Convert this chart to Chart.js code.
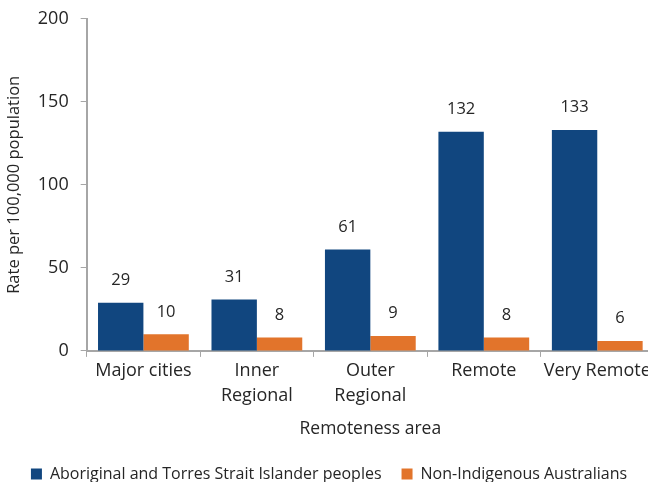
<!DOCTYPE html>
<html><head><meta charset="utf-8">
<script src="https://cdn.jsdelivr.net/npm/chart.js@4.4.1/dist/chart.umd.min.js"></script>
<style>html,body{margin:0;padding:0;overflow:hidden;background:#fff;width:648px;height:482px}canvas{display:block}</style>
</head><body>
<canvas id="c" width="656" height="482" style="width:656px;height:482px"></canvas>
<script>
const categories = [["Major cities"], ["Inner", "Regional"], ["Outer", "Regional"], ["Remote"], ["Very Remote"]];
const indigenousRates = [29, 31, 61, 132, 133];
const nonIndigenousRates = [10, 8, 9, 8, 6];
const seriesNames = ["Aboriginal and Torres Strait Islander peoples", "Non-Indigenous Australians"];
const yTicks = [0, 50, 100, 150, 200];

const FONT = "'Open Sans', 'Liberation Sans', sans-serif";
const TXT = '#262626';
const AX = '#a6a6a6';

const labelPlugin = {
  id: 'valueLabels',
  afterDatasetsDraw(chart) {
    const ctx = chart.ctx;
    ctx.save();
    ctx.font = '16.5px ' + FONT;
    ctx.fillStyle = TXT;
    ctx.textAlign = 'center';
    ctx.textBaseline = 'bottom';
    chart.data.datasets.forEach((ds, i) => {
      chart.getDatasetMeta(i).data.forEach((bar, j) => {
        ctx.fillText(String(ds.data[j]), bar.x, bar.y - 14);
      });
    });
    ctx.restore();
  }
};

new Chart(document.getElementById('c'), {
  type: 'bar',
  data: {
    labels: categories,
    datasets: [
      { label: seriesNames[0], data: indigenousRates, backgroundColor: '#11467f' },
      { label: seriesNames[1], data: nonIndigenousRates, backgroundColor: '#e2742b' }
    ]
  },
  options: {
    responsive: false,
    animation: false,
    devicePixelRatio: 1,
    layout: { padding: { top: 0, left: 4, right: 2, bottom: -10 } },
    datasets: { bar: { categoryPercentage: 0.8, barPercentage: 1.0 } },
    plugins: {
      legend: {
        position: 'bottom',
        labels: { font: { family: FONT, size: 16 }, color: TXT, boxWidth: 11, boxHeight: 11, padding: 20 }
      },
      tooltip: { enabled: false }
    },
    scales: {
      x: {
        offset: true,
        grid: { offset: true, drawOnChartArea: false, drawTicks: true, tickLength: 6, color: AX },
        border: { color: AX, width: 2 },
        ticks: { font: { family: FONT, size: 18, lineHeight: 1.42 }, color: TXT, maxRotation: 0, autoSkip: false, padding: 1 },
        title: { display: true, text: 'Remoteness area', font: { family: FONT, size: 17.5 }, color: TXT, padding: { top: 9, bottom: 6 } }
      },
      y: {
        min: 0, max: 200,
        afterBuildTicks(axis) { axis.ticks = yTicks.map(v => ({ value: v })); },
        grid: { drawOnChartArea: false, drawTicks: true, tickLength: 6, color: AX },
        border: { color: AX, width: 2 },
        ticks: { font: { family: FONT, size: 18, lineHeight: 0.75 }, color: TXT, padding: 12 },
        title: { display: true, text: 'Rate per 100,000 population', font: { family: FONT, size: 16.5 }, color: TXT, padding: { top: 0, bottom: 2 } }
      }
    }
  },
  plugins: [labelPlugin]
});
</script>
</body></html>
